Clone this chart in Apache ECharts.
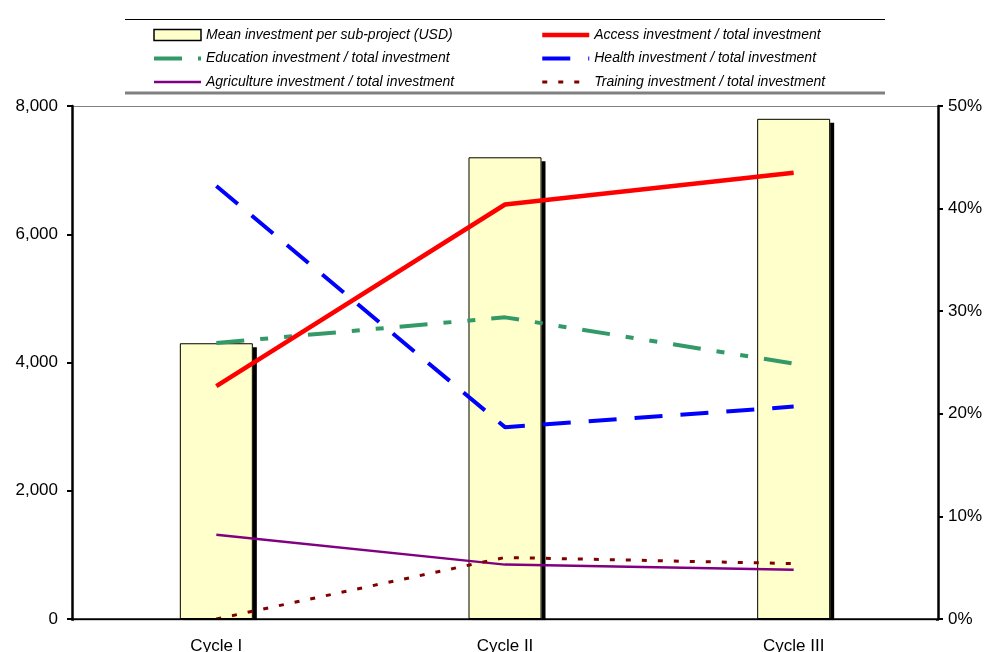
<!DOCTYPE html>
<html>
<head>
<meta charset="utf-8">
<script src="https://cdn.jsdelivr.net/npm/echarts@6/dist/echarts.min.js"></script>
<style>
  html, body { margin: 0; padding: 0; background: #fff; }
  #chart { width: 991px; height: 652px; }
</style>
</head>
<body>
<div id="chart"></div>
<script>
// Categories and series values
const categories = ['Cycle I', 'Cycle II', 'Cycle III'];
const meanInvestment = [4300, 7200, 7800];      // USD, left axis
const accessShare = [22.7, 40.4, 43.5];         // %, right axis
const educationShare = [26.9, 29.4, 24.9];
const healthShare = [42.2, 18.7, 20.7];
const agricultureShare = [8.2, 5.3, 4.8];
const trainingShare = [0, 6.0, 5.4];

const leftTicks = { min: 0, max: 8000, interval: 2000 };
const rightTicks = { min: 0, max: 50, interval: 10 };

const names = {
  mean: 'Mean investment per sub-project (USD)',
  access: 'Access investment / total investment',
  education: 'Education investment / total investment',
  health: 'Health investment / total investment',
  agriculture: 'Agriculture investment / total investment',
  training: 'Training investment / total investment'
};

const FONT = 'Liberation Sans, Arial, sans-serif';

// Line looks shared by the plotted series and their legend keys
const lineLooks = {
  access: { color: '#FF0000', width: 4.5, type: 'solid' },
  education: { color: '#339966', width: 4, type: [28, 16, 8, 16, 8, 16], cap: 'butt' },
  health: { color: '#0000FF', width: 4, type: [28, 18], cap: 'butt' },
  agriculture: { color: '#800080', width: 2.5, type: 'solid' },
  training: { color: '#800000', width: 3, type: [5, 11], cap: 'butt' }
};

const chart = echarts.init(document.getElementById('chart'), null, { renderer: 'canvas' });

const legendText = {
  fontFamily: FONT,
  fontStyle: 'italic',
  fontSize: 14,
  color: '#000'
};

const legendBase = {
  orient: 'vertical',
  top: 28,
  itemWidth: 47,
  itemHeight: 11,
  itemGap: 9.5,
  textStyle: legendText,
  selectedMode: false,
  padding: 0
};

// legend key for a line series: the line only, no marker
function lineKey(key) {
  return {
    name: names[key],
    itemStyle: { opacity: 0 },
    lineStyle: Object.assign({}, lineLooks[key])
  };
}

function lineSeries(key, values) {
  return {
    name: names[key],
    type: 'line',
    yAxisIndex: 1,
    data: values,
    symbol: 'none',
    lineStyle: Object.assign({}, lineLooks[key]),
    itemStyle: { color: lineLooks[key].color, opacity: 0 },
    z: key === 'access' ? 4 : 3
  };
}

const axisFont = { color: '#000', fontFamily: FONT, fontSize: 17 };

const option = {
  animation: false,
  backgroundColor: '#fff',
  grid: { left: 72, right: 53, top: 106, bottom: 33, containLabel: false, outerBoundsMode: 'none' },
  legend: [
    Object.assign({}, legendBase, {
      left: 152,
      data: [
        {
          name: names.mean,
          icon: 'rect',
          itemStyle: {
            color: '#FFFFCC', borderColor: '#000', borderWidth: 1.5,
            shadowColor: 'rgba(0,0,0,0)', shadowOffsetX: 0, shadowOffsetY: 0
          }
        },
        lineKey('education'),
        lineKey('agriculture')
      ]
    }),
    Object.assign({}, legendBase, {
      left: 540,
      data: [lineKey('access'), lineKey('health'), lineKey('training')]
    })
  ],
  graphic: [
    // legend frame: thin top rule, grey shadowed bottom rule
    { type: 'line', shape: { x1: 125, y1: 19.5, x2: 885, y2: 19.5 }, style: { stroke: '#000', lineWidth: 1 } },
    { type: 'line', shape: { x1: 125, y1: 93, x2: 885, y2: 93 }, style: { stroke: '#808080', lineWidth: 3 } },
    // keeps the column shadows from showing under the category axis
    { type: 'rect', shape: { x: 74, y: 620.3, width: 862, height: 6 }, style: { fill: '#fff' }, z: 100 }
  ],
  xAxis: [
    {
      type: 'category',
      data: categories,
      boundaryGap: true,
      position: 'bottom',
      axisLine: { show: true, onZero: false, lineStyle: { color: '#000', width: 2.5 } },
      axisTick: { show: false },
      axisLabel: Object.assign({ margin: 19 }, axisFont),
      splitLine: { show: false },
      z: 5
    },
    {
      type: 'category',
      data: categories,
      position: 'top',
      axisLine: { show: true, onZero: false, lineStyle: { color: '#808080', width: 1 } },
      axisTick: { show: false },
      axisLabel: { show: false },
      splitLine: { show: false }
    }
  ],
  yAxis: [
    {
      type: 'value',
      min: leftTicks.min,
      max: leftTicks.max,
      interval: leftTicks.interval,
      position: 'left',
      axisLine: { show: true, lineStyle: { color: '#000', width: 2.5 } },
      axisTick: { show: true, length: 5, lineStyle: { color: '#000', width: 2 } },
      axisLabel: Object.assign({ margin: 14, formatter: v => v.toLocaleString('en-US') }, axisFont),
      splitLine: { show: false },
      z: 5
    },
    {
      type: 'value',
      min: rightTicks.min,
      max: rightTicks.max,
      interval: rightTicks.interval,
      position: 'right',
      axisLine: { show: true, lineStyle: { color: '#000', width: 2.5 } },
      axisTick: { show: true, length: 5, lineStyle: { color: '#000', width: 2 } },
      axisLabel: Object.assign({ margin: 10, formatter: '{value}%' }, axisFont),
      splitLine: { show: false },
      z: 5
    }
  ],
  series: [
    // drop shadow layer of the columns (filled, no outline)
    {
      name: 'column shadow',
      type: 'bar',
      data: meanInvestment,
      barWidth: 73,
      silent: true,
      itemStyle: {
        color: '#FFFFCC',
        borderWidth: 0,
        shadowColor: '#000',
        shadowBlur: 0,
        shadowOffsetX: 4,
        shadowOffsetY: 4
      },
      z: 1
    },
    // the columns themselves, drawn over their shadow
    {
      name: names.mean,
      type: 'bar',
      data: meanInvestment,
      barWidth: 73,
      barGap: '-100%',
      itemStyle: {
        color: '#FFFFCC',
        borderColor: '#000',
        borderWidth: 1
      },
      z: 2
    },
    lineSeries('access', accessShare),
    lineSeries('education', educationShare),
    lineSeries('health', healthShare),
    lineSeries('agriculture', agricultureShare),
    lineSeries('training', trainingShare)
  ]
};

chart.setOption(option);
</script>
</body>
</html>
